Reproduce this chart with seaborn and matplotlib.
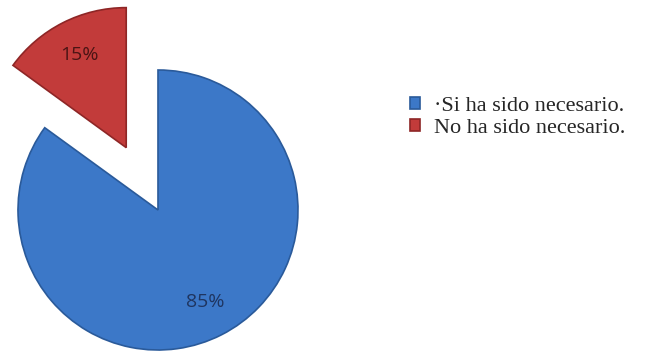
import matplotlib
matplotlib.use("Agg")
import matplotlib.pyplot as plt
import seaborn as sns

# data
labels = ["·Si ha sido necesario.", "No ha sido necesario."]
shares = [85, 15]
explode = [0, 0.5]
colors = ["#3C78C8", "#C23B3A"]
edges = ["#2A5A9A", "#8E2626"]
label_colors = ["#1F3560", "#4A1414"]

sns.set_style("white")
plt.rcParams["font.family"] = ["Open Sans", "DejaVu Sans"]

fig = plt.figure(figsize=(6.52, 3.52), dpi=100)
# axes covering the left half, 140 px per data unit
ax = fig.add_axes([0, 0, 326 / 652, 1])
wedges, texts, autotexts = ax.pie(
    shares,
    explode=explode,
    colors=colors,
    startangle=90,
    counterclock=False,
    autopct="%d%%",
    pctdistance=0.74,
    radius=1,
    wedgeprops=dict(linewidth=1.2),
    textprops=dict(fontsize=14),
)
for w, ec in zip(wedges, edges):
    w.set_edgecolor(ec)
for t, c in zip(autotexts, label_colors):
    t.set_color(c)
ax.set_xlim(-158 / 140, 168 / 140)
ax.set_ylim(-142 / 140, 210 / 140)
ax.set_aspect("auto")
ax.axis("off")

leg = fig.legend(
    wedges, labels,
    loc="upper left",
    bbox_to_anchor=(410 / 652, 1 - 97 / 352),
    frameon=False,
    prop=dict(family="Liberation Serif", size=16),
    borderaxespad=0,
    borderpad=0,
    handlelength=0.45,
    handleheight=0.45,
    handletextpad=0.65,
    labelspacing=0.12,
)

fig.savefig("out.png", dpi=100)
